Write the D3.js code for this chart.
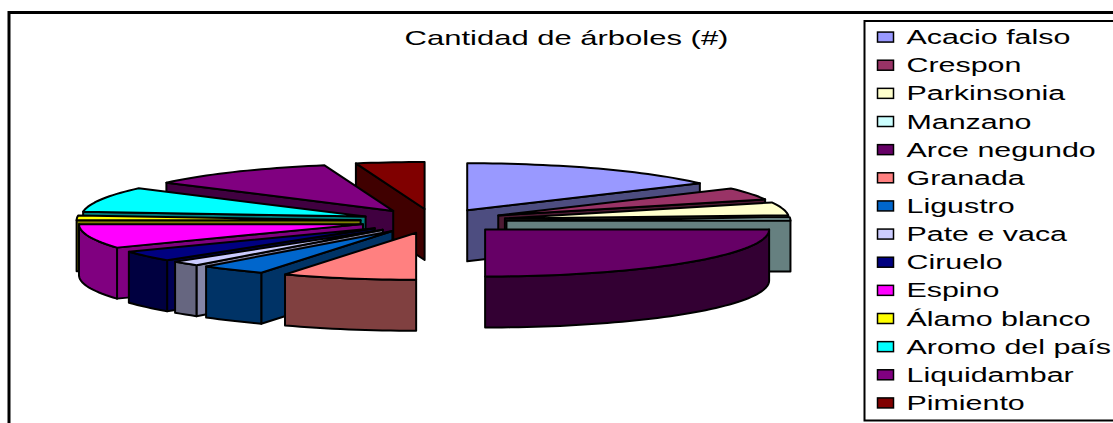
<!DOCTYPE html>
<html>
<head>
<meta charset="utf-8">
<script src="https://cdn.jsdelivr.net/npm/d3@7"></script>
<style>
  html, body { margin: 0; padding: 0; background: #fff; overflow: hidden; }
  text { font-family: "Liberation Sans", Arial, sans-serif; fill: #000; }
</style>
</head>
<body>
<div id="chart"></div>
<script>
const chartTitle = "Cantidad de árboles (#)";
const species = ["Acacio falso", "Crespon", "Parkinsonia", "Manzano", "Arce negundo", "Granada", "Ligustro",
    "Pate e vaca", "Ciruelo", "Espino", "Álamo blanco", "Aromo del país", "Liquidambar", "Pimiento"];
const treeCounts = [110, 30, 32, 8, 180, 55, 27, 12, 26, 60, 12, 62, 78, 28];
const sliceColors = ["#9999FF", "#993366", "#FFFFCC", "#CCFFFF", "#660066", "#FF8080", "#0066CC",
    "#CCCCFF", "#000080", "#FF00FF", "#FFFF00", "#00FFFF", "#800080", "#800000"];

const width = 1113;
const height = 423;

// pie geometry
const cx = 433.5;
const cy = 221;
const rx = 284;
const ry = 47;
const depth = 51;
const explode = 73;
const tilt = ry / rx;

const svg = d3.select("#chart").append("svg")
    .attr("width", width)
    .attr("height", height);

// chart frame, right and bottom sides run off the page
svg.append("path")
    .attr("d", `M9,${height} V12.5 H${width}`)
    .attr("fill", "none")
    .attr("stroke", "#000")
    .attr("stroke-width", 3);

svg.append("text")
    .attr("transform", "translate(566.5,45) scale(1.55,1)")
    .attr("text-anchor", "middle")
    .attr("font-size", 20)
    .text(chartTitle);

const pie = d3.pie().sort(null).startAngle(0).endAngle(2 * Math.PI);
const slices = pie(treeCounts).map((d, i) => ({...d, name: species[i], color: sliceColors[i]}));

const polygon = d3.line().curve(d3.curveLinearClosed);

// point on the slice's rim, angle clockwise from 12 o'clock
const rimPoint = (apex, a, dz = 0) => [apex[0] + rx * Math.sin(a), apex[1] - ry * Math.cos(a) + dz];

const rimPoints = (apex, a0, a1, dz = 0) => {
    const steps = Math.max(2, Math.ceil((a1 - a0) / 0.03));
    return d3.range(steps + 1).map(k => rimPoint(apex, a0 + (a1 - a0) * k / steps, dz));
};

const shade = (color, k) => {
    const c = d3.rgb(color);
    return d3.rgb(c.r * k, c.g * k, c.b * k).formatHex();
};

// walls need drawing before the top; back slices before front ones
const drawOrder = slices.slice().sort((p, q) =>
    Math.cos((q.startAngle + q.endAngle) / 2) - Math.cos((p.startAngle + p.endAngle) / 2));

const pieLayer = svg.append("g")
    .attr("stroke", "#000")
    .attr("stroke-width", 2)
    .attr("stroke-linejoin", "round");

drawOrder.forEach(d => {
    const mid = (d.startAngle + d.endAngle) / 2;
    const apex = [cx + explode * Math.sin(mid), cy - explode * tilt * Math.cos(mid)];
    const apexLow = [apex[0], apex[1] + depth];
    const side = shade(d.color, 0.5);
    const radialSide = (d.name === "Ciruelo" || d.name === "Pate e vaca") ? shade(d.color, 0.65) : side;
    const g = pieLayer.append("g").attr("class", "slice");

    // radial wall, seen only when it turns toward the viewer
    [[d.startAngle, d.startAngle - Math.PI / 2], [d.endAngle, d.endAngle + Math.PI / 2]].forEach(([a, normal]) => {
        if (Math.cos(normal) < -1e-6) {
            const p = rimPoint(apex, a);
            g.append("path")
                .attr("d", polygon([apex, p, rimPoint(apex, a, depth), apexLow]))
                .attr("fill", radialSide);
        }
    });

    // outer wall, front half of the rim only
    const a0 = Math.max(d.startAngle, Math.PI / 2);
    const a1 = Math.min(d.endAngle, 3 * Math.PI / 2);
    if (a1 > a0) {
        const upper = rimPoints(apex, a0, a1);
        const lower = rimPoints(apex, a0, a1, depth).reverse();
        g.append("path")
            .attr("d", polygon(upper.concat(lower)))
            .attr("fill", side);
    }

    g.append("path")
        .attr("d", polygon([apex].concat(rimPoints(apex, d.startAngle, d.endAngle))))
        .attr("fill", d.color);
});

// legend
const legendTop = 21;
const legendRow = d3.scaleBand()
    .domain(species)
    .range([23, 417]);

const legend = svg.append("g");
legend.append("path")
    .attr("d", `M${width},${legendTop} H864.5 V420.5 H${width}`)
    .attr("fill", "none")
    .attr("stroke", "#000")
    .attr("stroke-width", 2);

const rows = legend.selectAll(".row")
    .data(slices)
    .join("g")
    .attr("class", "row")
    .attr("transform", d => `translate(0,${legendRow(d.name) + legendRow.bandwidth() / 2})`);

rows.append("rect")
    .attr("x", 877.5)
    .attr("y", -5)
    .attr("width", 16)
    .attr("height", 10)
    .attr("fill", d => d.color)
    .attr("stroke", "#000")
    .attr("stroke-width", 1.5);

rows.append("text")
    .attr("transform", "translate(906.5,7) scale(1.52,1)")
    .attr("font-size", 20)
    .text(d => d.name);
</script>
</body>
</html>
